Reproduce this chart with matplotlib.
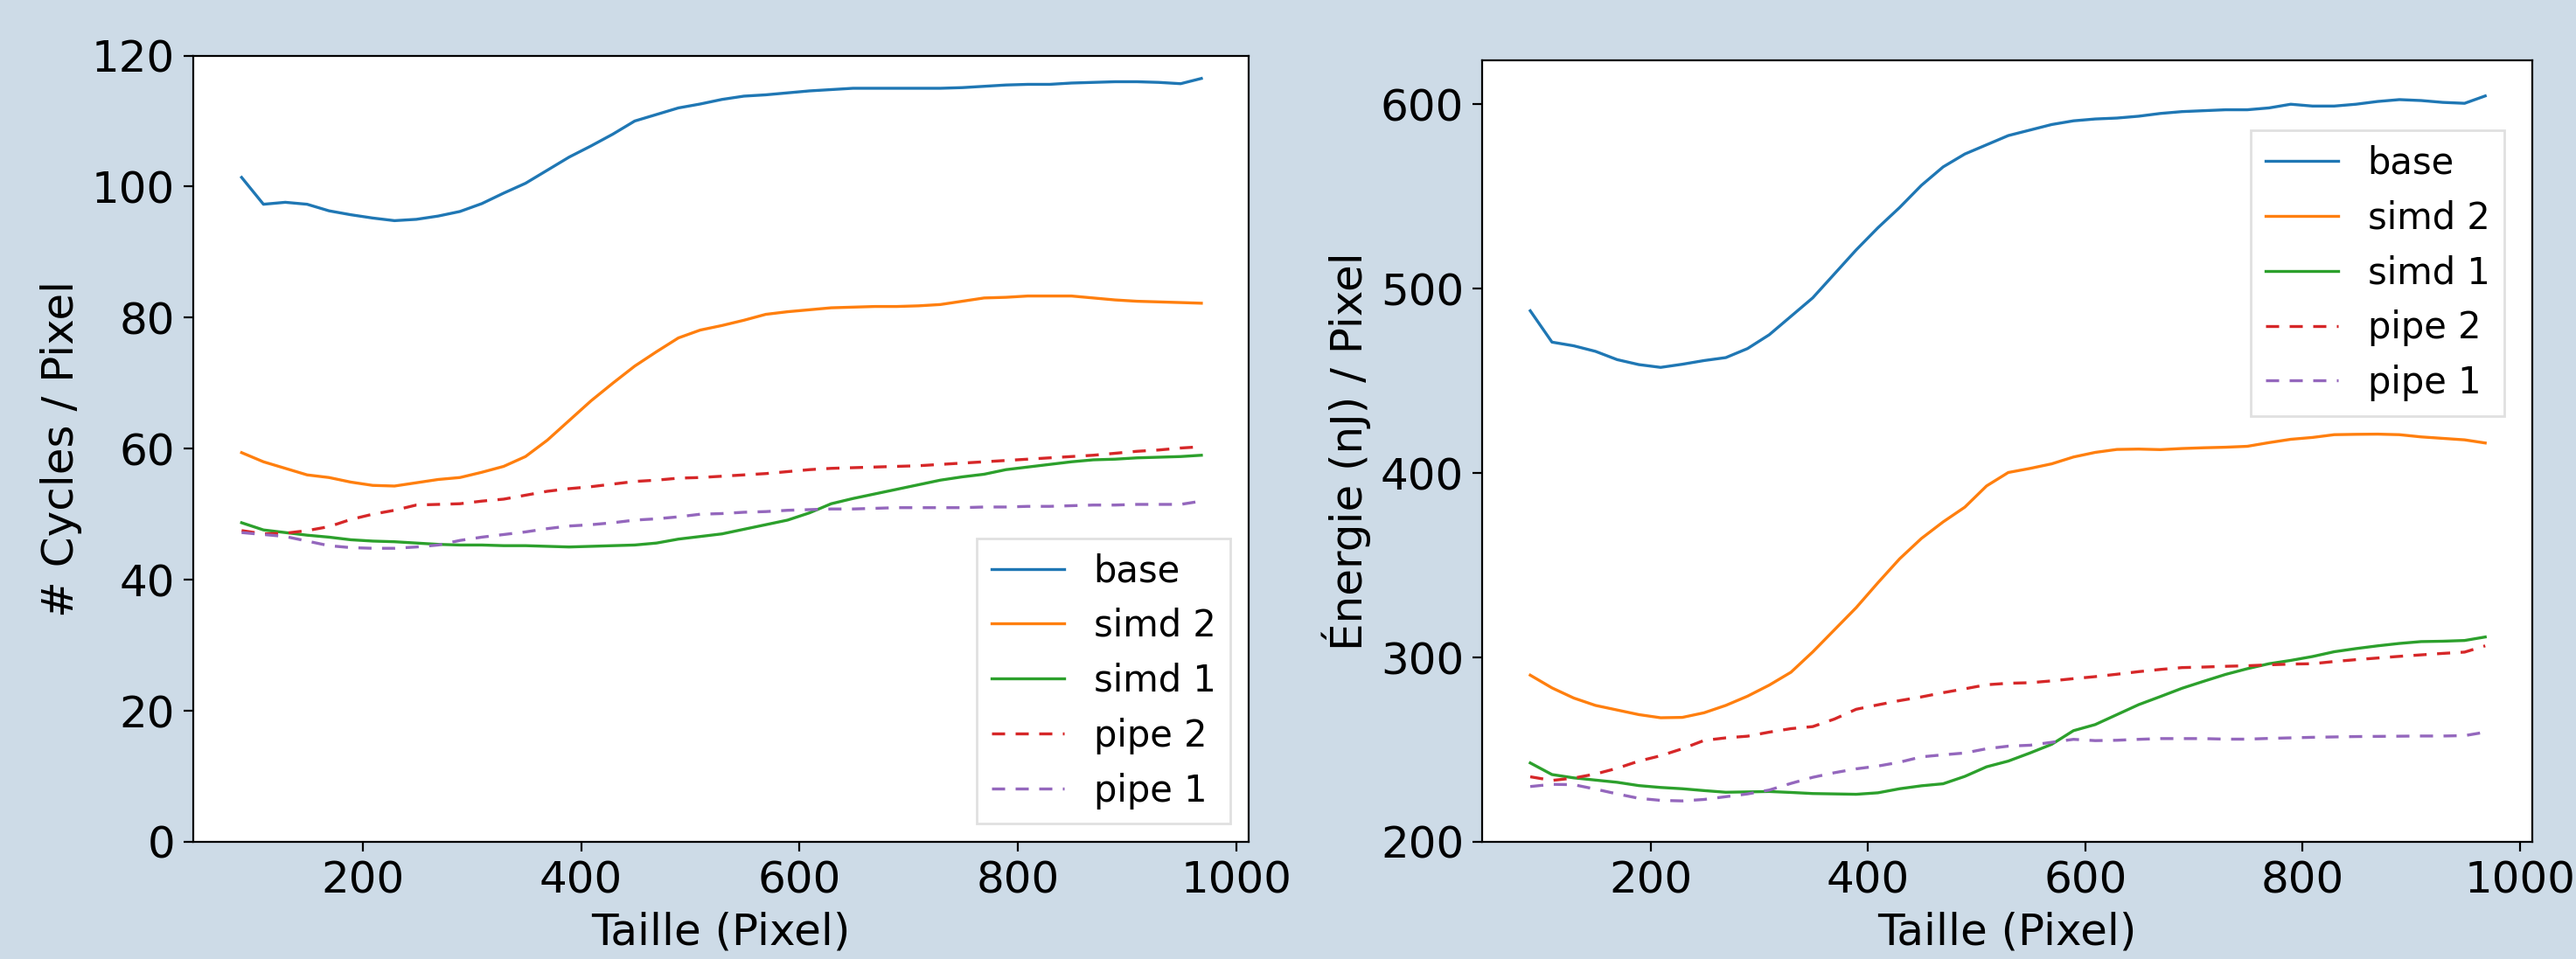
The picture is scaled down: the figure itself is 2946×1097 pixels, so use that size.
import matplotlib
matplotlib.use("Agg")
import matplotlib.pyplot as plt

# ---------------- data ----------------
taille = [89, 109, 129, 149, 169, 189, 209, 229, 249, 269, 289, 309, 329, 349, 369,
          389, 409, 429, 449, 469, 489, 509, 529, 549, 569, 589, 609, 629, 649, 669,
          689, 709, 729, 749, 769, 789, 809, 829, 849, 869, 889, 909, 929, 949, 968]

labels = ["base", "simd 2", "simd 1", "pipe 2", "pipe 1"]

cyc_base = [101.4, 97.3, 97.6, 97.3, 96.3, 95.7, 95.2, 94.8, 95.0, 95.5, 96.2, 97.4, 99.0, 100.5, 102.5,
            104.5, 106.2, 108.0, 110.0, 111.0, 112.0, 112.6, 113.3, 113.8, 114.0, 114.3, 114.6, 114.8, 115.0, 115.0,
            115.0, 115.0, 115.0, 115.1, 115.3, 115.5, 115.6, 115.6, 115.8, 115.9, 116.0, 116.0, 115.9, 115.7, 116.5]
cyc_simd2 = [59.4, 58.0, 57.0, 56.0, 55.6, 54.9, 54.4, 54.3, 54.8, 55.3, 55.6, 56.4, 57.3, 58.8, 61.3,
             64.3, 67.3, 70.0, 72.6, 74.8, 76.9, 78.1, 78.8, 79.6, 80.5, 80.9, 81.2, 81.5, 81.6, 81.7,
             81.7, 81.8, 82.0, 82.5, 83.0, 83.1, 83.3, 83.3, 83.3, 83.0, 82.7, 82.5, 82.4, 82.3, 82.2]
cyc_simd1 = [48.7, 47.6, 47.2, 46.8, 46.5, 46.1, 45.9, 45.8, 45.6, 45.4, 45.3, 45.3, 45.2, 45.2, 45.1,
             45.0, 45.1, 45.2, 45.3, 45.6, 46.2, 46.6, 47.0, 47.7, 48.4, 49.1, 50.2, 51.6, 52.4, 53.1,
             53.8, 54.5, 55.2, 55.7, 56.1, 56.8, 57.2, 57.6, 58.0, 58.3, 58.4, 58.6, 58.7, 58.8, 59.0]
cyc_pipe2 = [47.5, 47.0, 47.1, 47.5, 48.1, 49.2, 50.0, 50.6, 51.4, 51.5, 51.6, 52.0, 52.3, 52.9, 53.5,
             53.9, 54.2, 54.6, 55.0, 55.2, 55.5, 55.6, 55.8, 56.0, 56.2, 56.5, 56.8, 57.0, 57.1, 57.2,
             57.3, 57.4, 57.6, 57.8, 58.0, 58.2, 58.4, 58.6, 58.8, 59.0, 59.3, 59.6, 59.8, 60.1, 60.3]
cyc_pipe1 = [47.2, 46.9, 46.6, 45.9, 45.2, 44.9, 44.8, 44.8, 45.0, 45.3, 46.0, 46.5, 46.9, 47.3, 47.8,
             48.2, 48.4, 48.7, 49.1, 49.3, 49.6, 50.0, 50.1, 50.3, 50.4, 50.6, 50.7, 50.8, 50.8, 50.9,
             51.0, 51.0, 51.0, 51.0, 51.1, 51.1, 51.2, 51.2, 51.3, 51.4, 51.4, 51.5, 51.5, 51.5, 52.0]

nrj_base = [488, 471, 469, 466, 461.5, 458.8, 457.3, 459, 461, 462.6, 467.5, 475, 485, 495, 508,
            521, 533, 544, 556, 566, 573, 578, 583, 586, 589, 591, 592, 592.5, 593.5, 595,
            596, 596.5, 597, 597, 598, 600, 599, 599, 600, 601.5, 602.5, 602, 601, 600.5, 604.5]
nrj_simd2 = [290.4, 283.5, 278, 274, 271.5, 269, 267.3, 267.5, 270, 274, 279, 285, 292, 303, 315,
             327, 340.5, 353.5, 364.5, 373.5, 381.5, 393, 400.3, 402.5, 405, 408.7, 411.2, 412.8, 413, 412.7,
             413.3, 413.7, 414, 414.5, 416.5, 418.3, 419.3, 420.8, 421, 421.1, 420.8, 419.6, 418.8, 418, 416.3]
nrj_simd1 = [242.8, 236.5, 234.7, 233.5, 232.3, 230.5, 229.5, 228.8, 227.8, 226.9, 227.1, 227.3, 226.8, 226.2, 226,
             225.8, 226.6, 228.8, 230.4, 231.5, 235.5, 240.7, 243.8, 248.2, 252.9, 260.3, 263.6, 269, 274.4, 278.8,
             283.3, 287.1, 290.8, 293.9, 296.6, 298.4, 300.5, 303.1, 304.8, 306.3, 307.6, 308.6, 308.8, 309.2, 311.1]
nrj_pipe2 = [235.3, 233.3, 234.6, 236.8, 239.9, 243.8, 246.7, 250.5, 255, 256.4, 257.3, 259.5, 261.4, 262.5, 266.6,
             271.9, 274.3, 276.6, 278.6, 280.9, 283, 285.2, 286, 286.3, 287.3, 288.5, 289.6, 290.9, 292.3, 293.5,
             294.5, 294.8, 295.2, 295.5, 296, 296.4, 296.6, 297.8, 298.8, 299.7, 300.6, 301.4, 302.2, 302.9, 306.3]
nrj_pipe1 = [230, 231.2, 231, 228.6, 226, 223.6, 222.5, 222.2, 223, 224.5, 226, 228.1, 231.7, 235, 237.5,
             239.6, 241.1, 243.2, 246.1, 247.2, 248.2, 250.5, 251.9, 252.4, 254, 255.6, 254.9, 255.1, 255.6, 256,
             256, 256, 255.7, 255.7, 256.1, 256.4, 256.7, 256.9, 257.1, 257.2, 257.3, 257.4, 257.4, 257.6, 259.5]

xlabel = "Taille (Pixel)"
ylabel_left = "# Cycles / Pixel"
ylabel_right = "Énergie (nJ) / Pixel"

# ---------------- style ----------------
W, H, DPI = 2946, 1097, 200
plt.rcParams['font.family'] = ['DejaVu Sans']
plt.rcParams['xtick.major.size'] = 4
plt.rcParams['ytick.major.size'] = 4

colors = ['#1f77b4', '#ff7f0e', '#2ca02c', '#d62728', '#9467bd']
styles = ['-', '-', '-', (0, (4.5, 3.6)), (0, (4.5, 3.6))]
LW = 1.2

fig = plt.figure(figsize=(W / DPI, H / DPI), dpi=DPI, facecolor='#cddbe7')
ax1 = fig.add_axes([221 / W, 1 - 963 / H, (1428 - 221) / W, (963 - 63.5) / H])
ax2 = fig.add_axes([1695 / W, 1 - 963 / H, (2896 - 1695) / W, (963 - 68.6) / H])

left_series = [cyc_base, cyc_simd2, cyc_simd1, cyc_pipe2, cyc_pipe1]
right_series = [nrj_base, nrj_simd2, nrj_simd1, nrj_pipe2, nrj_pipe1]

for ys, lab, c, ls in zip(left_series, labels, colors, styles):
    ax1.plot(taille, ys, color=c, linestyle=ls, lw=LW, label=lab)
for ys, lab, c, ls in zip(right_series, labels, colors, styles):
    ax2.plot(taille, ys, color=c, linestyle=ls, lw=LW, label=lab)

for ax in (ax1, ax2):
    ax.set_facecolor('white')
    ax.set_xlim(44.7, 1011.3)
    ax.set_xticks([200, 400, 600, 800, 1000])
    ax.tick_params(labelsize=18)
    ax.set_xlabel(xlabel, fontsize=18)

ax1.set_ylim(0, 120)
ax1.set_yticks([0, 20, 40, 60, 80, 100, 120])
ax1.set_ylabel(ylabel_left, fontsize=18)

ax2.set_ylim(200, 624)
ax2.set_yticks([200, 300, 400, 500, 600])
ax2.set_ylabel(ylabel_right, fontsize=18)

leg_kw = dict(fontsize=15, fancybox=False, edgecolor='#d9d9d9', framealpha=0.8)
ax1.legend(loc='lower right', **leg_kw)
ax2.legend(loc='upper right', bbox_to_anchor=(0.9734, 0.9101), borderaxespad=0, **leg_kw)

fig.savefig('out.png', dpi=DPI, facecolor=fig.get_facecolor())
